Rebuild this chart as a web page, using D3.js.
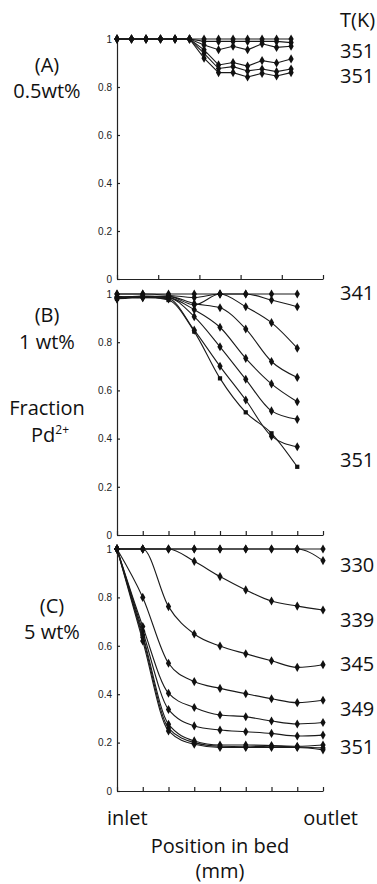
<!DOCTYPE html>
<html>
<head>
<meta charset="utf-8">
<script src="https://cdn.jsdelivr.net/npm/d3@7"></script>
<style>
  html, body { margin: 0; padding: 0; background: #fff; }
  .lbl { font-family: "Open Sans", sans-serif; font-size: 20px; fill: #111; }
  .tick text { font-family: "Liberation Sans", Arial, sans-serif; font-size: 10px; fill: #222; }
</style>
</head>
<body>
<svg id="chart" width="377" height="884"></svg>
<script>
const yTicks = [0, 0.2, 0.4, 0.6, 0.8, 1];

// panel A: 13 sampling points, axis has 5 tick intervals
const posA = [0, 1, 2, 3, 4, 5, 6, 7, 8, 9, 10, 11, 12];
const xTicksA = [0, 2.84, 5.68, 8.52, 11.36, 14.2];
const seriesA = [
    [1, 1, 1, 1, 1, 1, 1, 1, 1, 1, 1, 1, 1],
    [1, 1, 1, 1, 1, 1, 0.99, 0.99, 0.99, 0.99, 0.99, 0.99, 0.985],
    [1, 1, 1, 1, 1, 1, 0.975, 0.955, 0.97, 0.955, 0.98, 0.965, 0.97],
    [1, 1, 1, 1, 1, 1, 0.955, 0.892, 0.902, 0.887, 0.91, 0.9, 0.917],
    [1, 1, 1, 1, 1, 1, 0.94, 0.877, 0.885, 0.867, 0.875, 0.864, 0.875],
    [1, 1, 1, 1, 1, 1, 0.92, 0.86, 0.86, 0.842, 0.857, 0.846, 0.86]
];

// panel B: 8 sampling points, axis 0..8
const posB = [0, 1, 2, 3, 4, 5, 6, 7];
const xTicksBC = [0, 1, 2, 3, 4, 5, 6, 7, 8];
const seriesB = [
    [1, 1, 1, 1, 1, 1, 1, 1],
    [0.99, 0.985, 0.99, 0.955, 1, 1, 0.975, 0.947],
    [1, 1, 0.995, 0.985, 1, 0.947, 0.881, 0.775],
    [0.985, 0.99, 0.99, 0.96, 0.943, 0.855, 0.72, 0.654],
    [0.985, 0.99, 0.985, 0.935, 0.862, 0.733, 0.627, 0.553],
    [0.98, 0.99, 0.985, 0.906, 0.781, 0.646, 0.515, 0.48],
    [0.98, 0.985, 0.98, 0.85, 0.7, 0.56, 0.41, 0.366],
    [0.98, 0.99, 0.975, 0.844, 0.65, 0.509, 0.422, 0.283]
];
const squareB = [false, false, false, false, false, false, false, true];

// panel C: 9 sampling points
const posC = [0, 1, 2, 3, 4, 5, 6, 7, 8];
const seriesC = [
    [1, 1, 1, 1, 1, 1, 1, 1, 1],
    [1, 1, 1, 1, 1, 1, 1, 1, 0.952],
    [1, 1, 1, 0.949, 0.886, 0.831, 0.785, 0.764, 0.748],
    [1, 1, 0.762, 0.649, 0.599, 0.567, 0.538, 0.511, 0.522],
    [1, 0.8, 0.528, 0.452, 0.424, 0.402, 0.381, 0.365, 0.375],
    [1, 0.68, 0.404, 0.345, 0.314, 0.307, 0.289, 0.277, 0.283],
    [1, 0.66, 0.337, 0.269, 0.252, 0.245, 0.238, 0.227, 0.231],
    [1, 0.645, 0.276, 0.207, 0.19, 0.19, 0.188, 0.185, 0.19],
    [1, 0.635, 0.26, 0.2, 0.185, 0.183, 0.185, 0.182, 0.178],
    [1, 0.62, 0.248, 0.193, 0.18, 0.18, 0.18, 0.18, 0.17]
];

const svg = d3.select("#chart");

function drawPanel(opts) {
    const x = d3.scaleLinear().domain(opts.xDomain).range([117, 323]);
    const y = d3.scaleLinear().domain([0, 1]).range([opts.bottom, opts.top]);
    const g = svg.append("g");

    g.append("g").attr("transform", "translate(117,0)")
        .call(d3.axisLeft(y).tickValues(yTicks).tickSize(-3).tickSizeOuter(0)
            .tickPadding(5).tickFormat(d3.format("~g")));
    g.append("g").attr("transform", `translate(0,${opts.bottom})`)
        .call(d3.axisBottom(x).tickValues(opts.xTicks).tickSize(-4).tickSizeOuter(0).tickFormat(""));
    g.selectAll(".domain, .tick line").attr("stroke", "#222").attr("stroke-width", 1.2);

    const line = d3.line()
        .x((d, i) => x(opts.pos[i]))
        .y(d => y(d))
        .curve(opts.curve);

    opts.series.forEach((s, k) => {
        g.append("path").datum(s)
            .attr("d", line)
            .attr("fill", "none")
            .attr("stroke", "#1a1a1a")
            .attr("stroke-width", 1.1);
        const isSq = opts.square && opts.square[k];
        const sym = d3.symbol().type(isSq ? d3.symbolSquare : d3.symbolDiamond).size(isSq ? 18 : 24);
        g.selectAll(null).data(s).join("path")
            .attr("transform", (d, i) => `translate(${x(opts.pos[i])},${y(d)})`)
            .attr("d", sym)
            .attr("fill", "#111");
    });
}

drawPanel({ xDomain: [0, 14.2], xTicks: xTicksA, pos: posA, series: seriesA,
    top: 39, bottom: 279, curve: d3.curveLinear });
drawPanel({ xDomain: [0, 8], xTicks: xTicksBC, pos: posB, series: seriesB, square: squareB,
    top: 294, bottom: 535, curve: d3.curveMonotoneX });
drawPanel({ xDomain: [0, 8], xTicks: xTicksBC, pos: posC, series: seriesC,
    top: 549, bottom: 791, curve: d3.curveMonotoneX });

// text labels
function label(txt, x, y, anchor) {
    return svg.append("text").attr("class", "lbl")
        .attr("x", x).attr("y", y)
        .attr("text-anchor", anchor || "middle")
        .text(txt);
}

label("(A)", 47, 72);
label("0.5wt%", 47, 98);
label("(B)", 47, 322);
label("1 wt%", 47, 349);
label("Fraction", 47, 415);
const pd = label("Pd", 50, 442);
pd.append("tspan").attr("dy", -8).attr("font-size", 12).text("2+");
label("(C)", 52, 613);
label("5 wt%", 52, 639);

label("T(K)", 340, 27, "start");
label("351", 340, 58, "start");
label("351", 340, 83, "start");
label("341", 340, 300, "start");
label("351", 340, 467, "start");
label("330", 340, 572, "start");
label("339", 340, 627, "start");
label("345", 340, 671, "start");
label("349", 340, 716, "start");
label("351", 340, 754, "start");

label("inlet", 107, 825, "start");
label("outlet", 358, 825, "end");
label("Position in bed", 220, 853);
label("(mm)", 220, 878);
</script>
</body>
</html>
